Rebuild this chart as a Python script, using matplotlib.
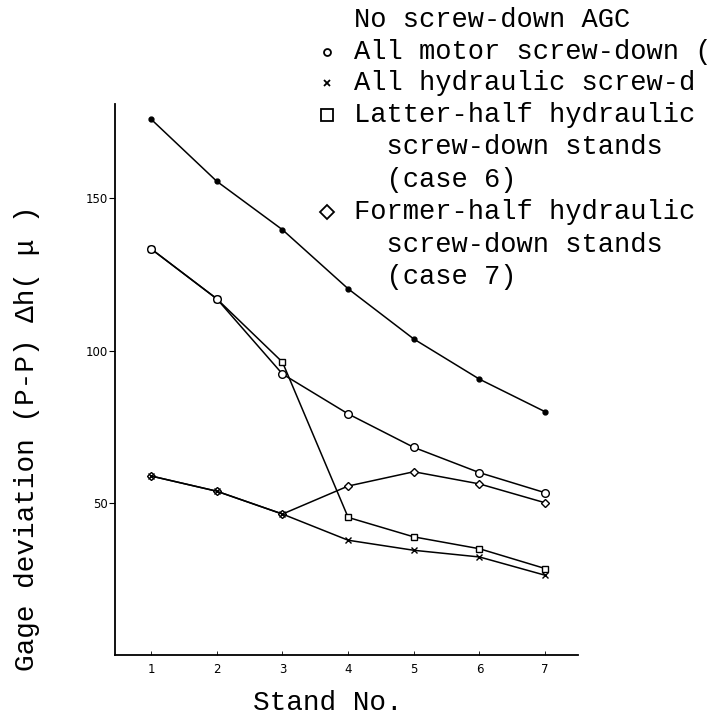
import matplotlib
matplotlib.use("Agg")
import matplotlib.pyplot as plt
from matplotlib.lines import Line2D

# stand numbers and gage deviation values
stands = [1, 2, 3, 4, 5, 6, 7]
no_agc = [176, 155.6, 139.7, 120.3, 103.8, 90.6, 79.9]
motor = [133.4, 117, 92.3, 79.2, 68.2, 59.9, 53.3]
hydraulic = [58.8, 53.8, 46.3, 37.7, 34.4, 32.2, 26.2]
latter_half = [133.4, 117, 96.2, 45.2, 38.8, 34.9, 28.4]
former_half = [58.8, 53.8, 46.3, 55.5, 60.2, 56.2, 50.0]

y_ticks = [50, 100, 150]

# legend text as far as it is visible in the original (right edge cuts it)
legend_rows = [
    ("", "No screw-down AGC"),
    ("o", "All motor screw-down ("),
    ("x", "All hydraulic screw-d"),
    ("s", "Latter-half hydraulic"),
    ("", "  screw-down stands"),
    ("", "  (case 6)"),
    ("D", "Former-half hydraulic"),
    ("", "  screw-down stands"),
    ("", "  (case 7)"),
]

MONO = ["Liberation Mono", "DejaVu Sans Mono"]
W, H = 715, 723

fig = plt.figure(figsize=(W / 100, H / 100), dpi=100)
ax = fig.add_axes([115 / W, 1 - 655 / H, (578 - 115) / W, (655 - 104) / H])

lw = 1.1
ax.plot(stands, no_agc, color="black", lw=lw, marker="o", ms=3.5, mfc="black")
ax.plot(stands, latter_half, color="black", lw=lw, marker="s", ms=5, mfc="white", mew=1)
ax.plot(stands, motor, color="black", lw=lw, marker="o", ms=5.5, mfc="white", mew=1)
ax.plot(stands, former_half, color="black", lw=lw, marker="D", ms=4.5, mfc="white", mew=1)
ax.plot(stands, hydraulic, color="black", lw=lw, marker="x", ms=4, mew=1)

ax.set_xlim(0.45, 7.5)
ax.set_ylim(0, 181)
ax.set_xticks(stands)
ax.set_yticks(y_ticks)
ax.tick_params(axis="y", direction="out", length=4, width=0.8, labelsize=8.5, pad=1)
ax.tick_params(axis="x", direction="in", length=3, width=0.6, labelsize=8.5, pad=6)
for s in ["top", "right"]:
    ax.spines[s].set_visible(False)
for s in ["left", "bottom"]:
    ax.spines[s].set_linewidth(1.3)

fig.text(27 / W, 1 - 438 / H, "Gage deviation (P-P) \u0394h( \u03bc )", rotation=90,
         ha="center", va="center", fontsize=20, family=MONO)
fig.text(328 / W, 1 - 703 / H, "Stand No.", ha="center", va="center",
         fontsize=20, family=MONO)

# hand-set legend in the upper right, as in the original
row_y = [20, 52, 83, 115, 147, 180, 212, 245, 277]
for (mk, label), y in zip(legend_rows, row_y):
    yf = 1 - y / H
    fig.text(354 / W, yf, label, ha="left", va="center", fontsize=19.5, family=MONO)
    if mk:
        ms = {"o": 5, "x": 5, "s": 8, "D": 7}[mk]
        fig.add_artist(Line2D([327 / W], [yf], transform=fig.transFigure, marker=mk,
                              ms=ms, mfc="white", mec="black", mew=1.3, color="black"))

fig.savefig("out.png", dpi=100)
